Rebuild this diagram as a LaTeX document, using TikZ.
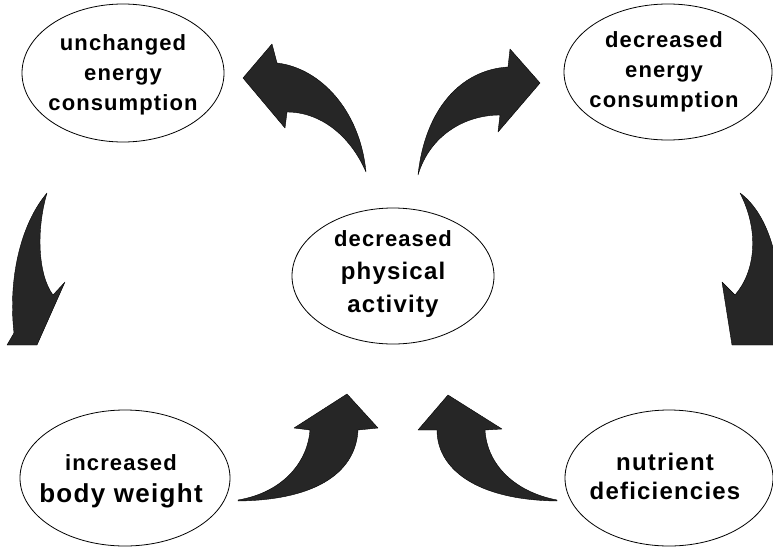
\documentclass[tikz,border=0pt]{standalone}
\usepackage{fontspec}
\setmainfont{Liberation Sans}[LetterSpace=5]
\usetikzlibrary{shapes.geometric}
\begin{document}
\begin{tikzpicture}[x=1pt,y=-1pt,
  bub/.style={draw, ellipse, line width=0.8pt, inner sep=0pt},
  lbl/.style={align=center, font=\bfseries\fontsize{22}{30}\selectfont, inner sep=0pt},
  blk/.style={fill=black!85, draw=black, line width=0.4pt, line join=round}]
\useasboundingbox (0,0) rectangle (773,546);
\clip (0,0) rectangle (773,546);

% ellipses
\node[bub, minimum width=202pt, minimum height=138pt] (tl) at (123,73) {};
\node[bub, minimum width=208pt, minimum height=136pt] (tr) at (668,72) {};
\node[bub, minimum width=202pt, minimum height=136pt] (ctr) at (393,276) {};
\node[bub, minimum width=210pt, minimum height=136pt] (bl) at (125,478) {};
\node[bub, minimum width=208pt, minimum height=136pt] (br) at (669,478) {};

% texts
\node[lbl] (tlt) at (123,75) {unchanged\\energy\\consumption};
\node[lbl] (trt) at (664,72) {decreased\\energy\\consumption};
\node[lbl, font=\bfseries\fontsize{22}{33}\selectfont] (ctrt) at (393,274) {decreased\\{\fontsize{24}{33}\selectfont physical}\\{\fontsize{24}{33}\selectfont activity}};
\node[lbl, font=\bfseries\fontsize{22}{32}\selectfont] (blt) at (121,481) {increased\\{\fontsize{26}{32}\selectfont body weight}};
\node[lbl, font=\bfseries\fontsize{24}{29}\selectfont] (brt) at (665,476) {nutrient\\deficiencies};

% block arrows
% centre -> top left
\fill[blk] (366,172) .. controls (360,110) and (320,68) .. (277,63) -- (272,44) -- (243,78) -- (285,128) -- (287,112) .. controls (320,112) and (350,135) .. (366,172) -- cycle;
% centre -> top right
\fill[blk] (418,175) .. controls (425,110) and (460,70) .. (508,67) -- (510,49) -- (540,83) -- (498,132) -- (500,115) .. controls (465,115) and (430,135) .. (418,175) -- cycle;
% top left -> bottom left
\fill[blk] (47,193) .. controls (20,225) and (8,280) .. (14,333) -- (7,345) -- (37,345) -- (65,282) -- (53,295) .. controls (38,275) and (36,230) .. (47,193) -- cycle;
% top right -> bottom right
\fill[blk] (740,193) .. controls (770,215) and (785,270) .. (778,330) -- (781,345) -- (732,345) -- (722,282) -- (735,295) .. controls (755,272) and (760,232) .. (740,193) -- cycle;
% bottom left -> centre
\fill[blk] (238,500) .. controls (285,492) and (308,460) .. (310,430) -- (294,428) -- (347,394) -- (378,428) -- (358,430) .. controls (356,470) and (320,500) .. (238,501) -- cycle;
% bottom right -> centre
\fill[blk] (557,501) .. controls (475,500) and (437,468) .. (437,430) -- (418,430) -- (448,395) -- (502,429) -- (485,430) .. controls (487,465) and (515,492) .. (557,500) -- cycle;
\end{tikzpicture}
\end{document}
